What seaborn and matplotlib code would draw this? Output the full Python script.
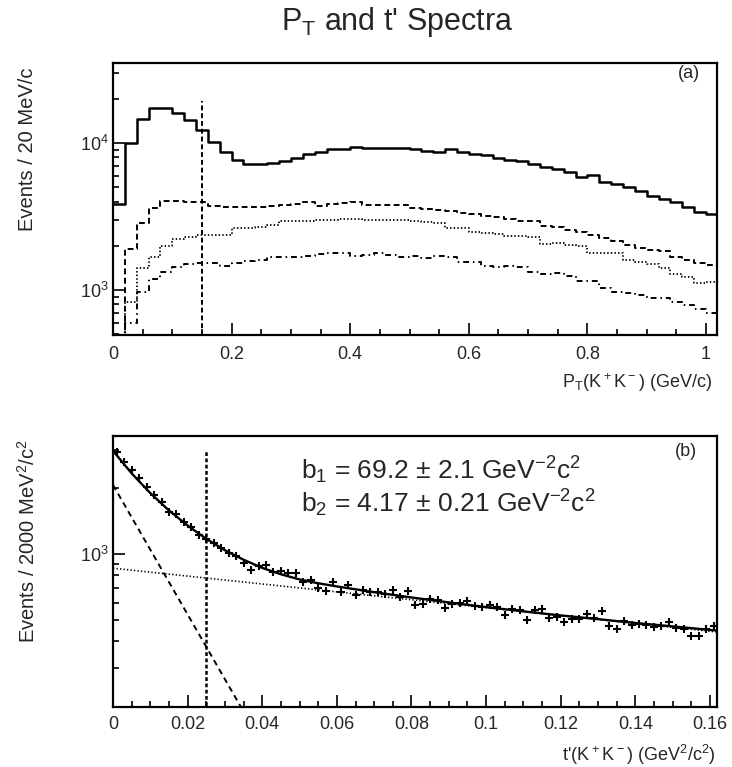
import numpy as np
import pandas as pd
import matplotlib
matplotlib.use("Agg")
import matplotlib.pyplot as plt
import matplotlib.ticker as mticker
import seaborn as sns

sns.set_theme(style="white")
plt.rcParams["font.family"] = ["Liberation Sans", "DejaVu Sans"]
plt.rcParams["mathtext.default"] = "regular"

# ---------------- panel (a): P_T spectra, 20 MeV/c bins ----------------
pt_bin_width = 0.02
pt_nbins = 51
pt_total = [3840, 10090, 14650, 17500, 17500, 16170, 14400, 12320, 10250, 8770,
            7690, 7200, 7200, 7380, 7600, 7980, 8410, 8690, 9100, 9100,
            9480, 9330, 9330, 9250, 9250, 9140, 8910, 8690, 9100, 8730,
            8450, 8280, 7980, 7690, 7620, 7230, 6930, 6650, 6370, 5920,
            6050, 5470, 5250, 5010, 4750, 4370, 4190, 3980, 3660, 3420, 3280]
pt_dashed = [200, 1890, 2880, 3600, 4060, 4060, 4000, 4000, 3740, 3660,
             3660, 3700, 3700, 3740, 3790, 3850, 3980, 3740, 3840, 3900,
             3980, 3820, 3820, 3780, 3780, 3600, 3550, 3510, 3470, 3370,
             3300, 3210, 3160, 3060, 2950, 2950, 2730, 2670, 2560, 2470,
             2370, 2250, 2170, 2030, 1940, 1870, 1850, 1690, 1600, 1520, 1470]
pt_dotted = [150, 832, 1406, 1686, 1995, 2220, 2310, 2370, 2370, 2370,
             2630, 2650, 2700, 2775, 2950, 2950, 2950, 3000, 3000, 3035,
             3035, 3000, 3000, 3000, 3000, 2950, 2925, 2850, 2630, 2630,
             2500, 2435, 2410, 2335, 2320, 2285, 2060, 2100, 2030, 1995,
             1780, 1800, 1780, 1600, 1560, 1503, 1406, 1286, 1233, 1122, 1130]
pt_dashdot = [100, 593, 973, 1183, 1333, 1443, 1503, 1535, 1535, 1460,
              1535, 1585, 1600, 1686, 1670, 1670, 1706, 1750, 1795, 1780,
              1706, 1730, 1780, 1730, 1670, 1706, 1660, 1706, 1670, 1560,
              1560, 1460, 1430, 1460, 1443, 1333, 1286, 1310, 1245, 1157,
              1145, 1028, 973, 948, 925, 887, 880, 832, 790, 738, 700]
pt_cut = 0.15
pt_cut_top = 19400
pt_xticks = [0, 0.2, 0.4, 0.6, 0.8, 1.0]

# ---------------- panel (b): t' spectrum, 2000 MeV^2/c^2 bins ----------------
t_bin_width = 0.002
t_counts = [2934, 2637, 2421, 2223, 2029, 1857, 1731, 1561, 1518, 1407,
            1332, 1219, 1165, 1119, 1063, 1012, 979, 913, 846, 880,
            891, 830, 838, 815, 823, 748, 760, 698, 677, 742,
            673, 722, 651, 685, 673, 667, 657, 685, 639, 681,
            585, 592, 621, 616, 565, 592, 596, 607, 579, 571,
            585, 571, 527, 559, 553, 499, 552, 560, 511, 518,
            487, 504, 504, 532, 508, 548, 471, 454, 494, 474,
            480, 474, 462, 469, 491, 458, 454, 423, 423, 454, 471]
fit_t = [0, 0.005, 0.01, 0.015, 0.02, 0.025, 0.03, 0.035, 0.04, 0.045, 0.05,
         0.055, 0.06, 0.07, 0.08, 0.09, 0.10, 0.11, 0.12, 0.13, 0.14, 0.15, 0.16, 0.162]
fit_total = [2960, 2334, 1897, 1580, 1349, 1172, 1040, 941, 864, 808, 765,
             735, 711, 669, 633, 601, 572, 547, 524, 504, 484, 467, 450, 447]
steep_t = [0.0, 0.036]
steep_y = [2067, 178]
flat_t = [0.0, 0.162]
flat_y = [861, 440]
t_cut = 0.025
t_cut_top = 2985
b1_text = "b$_1$ = 69.2 ± 2.1 GeV$^{-2}$c$^2$"
b2_text = "b$_2$ = 4.17 ± 0.21 GeV$^{-2}$c$^2$"

# ---------------- figure ----------------
fig = plt.figure(figsize=(7.32, 7.67), dpi=100)
ax1 = fig.add_axes([0.1544, 0.5632, 0.8251, 0.3547])
ax2 = fig.add_axes([0.1544, 0.0782, 0.8251, 0.3534])

pt_edges = np.linspace(0.0, pt_bin_width * pt_nbins, pt_nbins + 1)
pt_centers = (pt_edges[:-1] + pt_edges[1:]) / 2

hist_styles = [
    (pt_total, "-", 1.8),
    (pt_dashed, (0, (3.0, 1.8)), 1.4),
    (pt_dotted, (0, (0.8, 1.2)), 1.3),
    (pt_dashdot, (0, (3.0, 2.0, 0.8, 2.0)), 1.4),
]
for vals, ls, lw in hist_styles:
    dfh = pd.DataFrame({"pt": pt_centers, "n": np.asarray(vals, dtype=float)})
    sns.histplot(data=dfh, x="pt", weights="n", bins=list(pt_edges), element="step",
                 fill=False, color="black", linewidth=lw, linestyle=ls, ax=ax1)

sns.lineplot(x=[pt_cut, pt_cut], y=[100, pt_cut_top], color="black", linewidth=1.4,
             linestyle=(0, (2.5, 1.5)), ax=ax1, sort=False, estimator=None)

ax1.set_yscale("log")
ax1.set_xlim(0, 1.0185)
ax1.set_ylim(493, 35250)

# panel (b)
t_centers = t_bin_width / 2 + t_bin_width * np.arange(len(t_counts))
df_pts = pd.DataFrame({"t": t_centers, "n": t_counts})
sns.scatterplot(data=df_pts, x="t", y="n", marker="+", s=40, color="black",
                linewidth=1.5, ax=ax2, zorder=3)
sns.lineplot(x=fit_t, y=fit_total, color="black", linewidth=1.7, ax=ax2,
             sort=False, estimator=None)
sns.lineplot(x=steep_t, y=steep_y, color="black", linewidth=1.4,
             linestyle=(0, (3.0, 2.2)), ax=ax2, sort=False, estimator=None)
sns.lineplot(x=flat_t, y=flat_y, color="black", linewidth=1.2,
             linestyle=(0, (0.8, 1.3)), ax=ax2, sort=False, estimator=None)
sns.lineplot(x=[t_cut, t_cut], y=[100, t_cut_top], color="black", linewidth=1.8,
             linestyle=(0, (1.5, 1.0)), ax=ax2, sort=False, estimator=None)

ax2.set_yscale("log")
ax2.set_xlim(0, 0.1619)
ax2.set_ylim(200, 3460)

fmt = mticker.FuncFormatter(lambda v, p: f"{v:g}")
ax1.xaxis.set_major_locator(mticker.FixedLocator(pt_xticks))
ax1.xaxis.set_minor_locator(mticker.MultipleLocator(0.05))
ax1.xaxis.set_major_formatter(fmt)
ax2.xaxis.set_major_locator(mticker.MultipleLocator(0.02))
ax2.xaxis.set_minor_locator(mticker.MultipleLocator(0.005))
ax2.xaxis.set_major_formatter(fmt)

for ax, xpad in ((ax1, 8), (ax2, 6.5)):
    ax.yaxis.set_major_locator(mticker.LogLocator(base=10))
    ax.yaxis.set_minor_locator(mticker.LogLocator(base=10, subs=np.arange(2, 10)))
    ax.yaxis.set_major_formatter(mticker.LogFormatterSciNotation())
    ax.yaxis.set_minor_formatter(mticker.NullFormatter())
    ax.tick_params(which="both", direction="in", top=False, right=False,
                   bottom=True, left=True, color="black", width=1.2)
    ax.tick_params(which="major", length=8.5, labelsize=13)
    ax.tick_params(axis="x", which="major", pad=xpad)
    ax.tick_params(axis="y", which="major", pad=3)
    ax.tick_params(which="minor", length=4.5)
    for sp in ax.spines.values():
        sp.set_color("black")
        sp.set_linewidth(1.6)
    ax.set_xlabel("")
    ax.set_ylabel("")
    ax.grid(False)

ax1.text(0.954, 0.963, "(a)", transform=ax1.transAxes, ha="center", va="center", fontsize=13)
ax2.text(0.949, 0.941, "(b)", transform=ax2.transAxes, ha="center", va="center", fontsize=13)
ax2.text(0.311, 0.875, b1_text, transform=ax2.transAxes, ha="left", va="center", fontsize=19)
ax2.text(0.311, 0.752, b2_text, transform=ax2.transAxes, ha="left", va="center", fontsize=19)

fig.text(0.543, 0.971, "P$_T$ and t' Spectra", ha="center", va="center", fontsize=22)
fig.text(0.038, 0.806, "Events / 20 MeV/c", rotation=90, ha="center", va="center", fontsize=14.5)
fig.text(0.038, 0.294, "Events / 2000 MeV$^2$/c$^2$", rotation=90, ha="center", va="center", fontsize=14.5)
fig.text(0.9727, 0.5007, "P$_T$(K$^+$K$^-$) (GeV/c)", ha="right", va="center", fontsize=13)
fig.text(0.978, 0.0156, "t'(K$^+$K$^-$) (GeV$^2$/c$^2$)", ha="right", va="center", fontsize=13)

fig.savefig("out.png", dpi=100)
